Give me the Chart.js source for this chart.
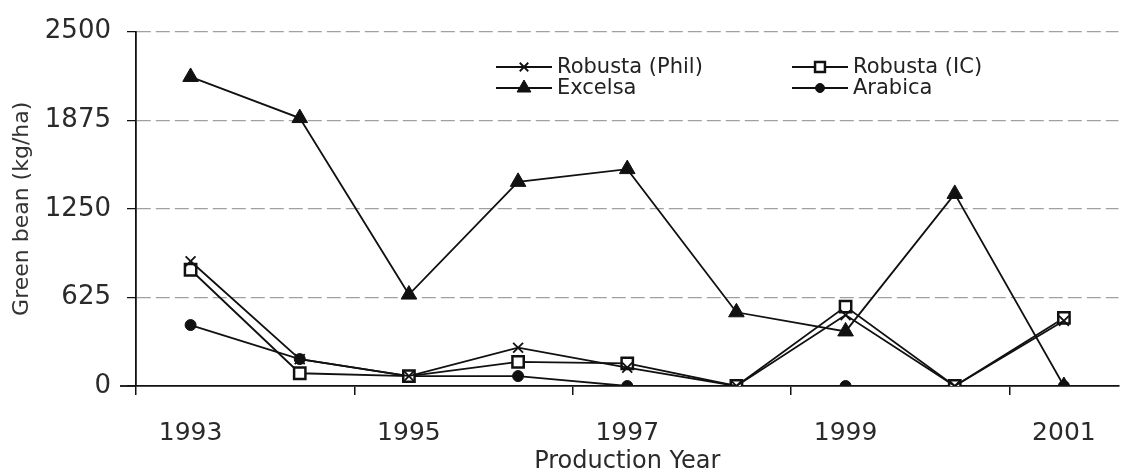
<!DOCTYPE html>
<html><head><meta charset="utf-8">
<script src="https://cdn.jsdelivr.net/npm/chart.js@4.4.0/dist/chart.umd.min.js"></script>
<style>html,body{margin:0;padding:0;background:#fff}#wrap{width:1129px;height:476px;position:relative}</style>
</head><body><div id="wrap"><canvas id="c" width="1129" height="476"></canvas></div>
<script>
const years = ['1993','1994','1995','1996','1997','1998','1999','2000','2001'];
const robustaPhil = [880, 190, 70, 270, 130, 0, 500, 0, 460];
const robustaIC   = [820, 90, 70, 170, 160, 0, 560, 0, 480];
const excelsa     = [2180, 1890, 645, 1440, 1530, 520, 385, 1355, 0];
const arabica     = [430, 190, 70, 70, 0, 0, 0, 0, 0];
const yTicks = [0, 625, 1250, 1875, 2500];
const seriesNames = ['Robusta (Phil)', 'Robusta (IC)', 'Excelsa', 'Arabica'];

const FONT = '"DejaVu Sans", "Liberation Sans", Arial, sans-serif';

const legendPlugin = {
  id: 'customLegend',
  afterDraw(chart, args, opts) {
    const ctx = chart.ctx;
    // x-axis line sticks out slightly left of the y-axis, as in the original
    const y0 = chart.scales.y.getPixelForValue(0);
    ctx.save();
    ctx.strokeStyle = '#111'; ctx.lineWidth = 1.8;
    ctx.beginPath(); ctx.moveTo(chart.chartArea.left - 16, y0); ctx.lineTo(chart.chartArea.left, y0); ctx.stroke();
    ctx.restore();
    chart.data.datasets.forEach((ds, i) => {
      const p = opts.items[i];
      ctx.save();
      ctx.strokeStyle = '#111';
      ctx.lineWidth = 2;
      ctx.beginPath();
      ctx.moveTo(p.x, p.y); ctx.lineTo(p.x + p.w, p.y);
      ctx.stroke();
      ctx.fillStyle = ds.pointBackgroundColor;
      ctx.strokeStyle = ds.pointBorderColor;
      ctx.lineWidth = ds.pointBorderWidth;
      Chart.helpers.drawPoint(ctx, {pointStyle: ds.pointStyle, radius: ds.pointRadius - 1, borderWidth: ds.pointBorderWidth, rotation: 0}, p.x + p.w / 2, p.y);
      ctx.fillStyle = '#222';
      ctx.font = '21px ' + FONT;
      ctx.textBaseline = 'middle';
      ctx.textAlign = 'left';
      ctx.fillText(ds.label, p.x + p.w + 5, p.y + 1);
      ctx.restore();
    });
  }
};

function mk(label, data, style, radius, bg, bw) {
  return {
    label, data,
    borderColor: '#111', borderWidth: 1.8,
    pointStyle: style, pointRadius: radius, pointHoverRadius: radius,
    pointBackgroundColor: bg, pointBorderColor: '#111', pointBorderWidth: bw,
    fill: false, tension: 0
  };
}

new Chart(document.getElementById('c'), {
  type: 'line',
  data: {
    labels: years,
    datasets: [
      mk(seriesNames[0], robustaPhil, 'crossRot', 7, '#111', 1.8),
      mk(seriesNames[1], robustaIC, 'rect', 8, '#fff', 2.5),
      mk(seriesNames[2], excelsa, 'triangle', 9, '#111', 1),
      mk(seriesNames[3], arabica, 'circle', 5.5, '#111', 1)
    ]
  },
  options: {
    responsive: false,
    animation: false,
    devicePixelRatio: 1,
    layout: {padding: {top: 31, right: 0, left: 0, bottom: 0}},
    plugins: {
      legend: {display: false},
      tooltip: {enabled: false},
      customLegend: {items: [
        {x: 496, y: 67, w: 56},
        {x: 792, y: 67, w: 56},
        {x: 496, y: 88, w: 56},
        {x: 792, y: 88, w: 56}
      ]}
    },
    scales: {
      x: {
        type: 'category',
        offset: true,
        afterFit: s => { s.height = 90; },
        grid: {
          offset: true,
          drawOnChartArea: false,
          color: c => (c.index % 2 === 0 ? '#111' : 'rgba(0,0,0,0)'),
          lineWidth: 1.5,
          tickLength: 9
        },
        border: {color: '#111', width: 1.8},
        ticks: {
          autoSkip: false, maxRotation: 0, minRotation: 0,
          callback: (v, i) => (i % 2 === 0 ? years[i] : ''),
          font: {family: FONT, size: 25}, color: '#2a2a2a', padding: 23
        },
        title: {display: true, text: 'Production Year', font: {family: FONT, size: 24}, color: '#2a2a2a', padding: {top: 0, bottom: 0}}
      },
      y: {
        min: 0, max: 2500,
        afterBuildTicks: s => { s.ticks = yTicks.map(v => ({value: v})); },
        afterFit: s => { s.width = 136; },
        grid: {
          color: c => (c.tick && c.tick.value === 0 ? 'rgba(0,0,0,0)' : '#a0a0a0'),
          tickColor: '#111',
          tickLength: 9,
          tickBorderDash: [1, 0],
          lineWidth: 1.2
        },
        border: {color: '#111', width: 1.8, dash: [14, 5]},
        ticks: {
          callback: v => String(v),
          font: {family: FONT, size: 26}, color: '#2a2a2a', padding: 16
        },
        title: {display: true, text: 'Green bean (kg/ha)', font: {family: FONT, size: 22}, color: '#333', padding: {top: 9, bottom: 0}}
      }
    }
  },
  plugins: [legendPlugin]
});
</script>
</body></html>
